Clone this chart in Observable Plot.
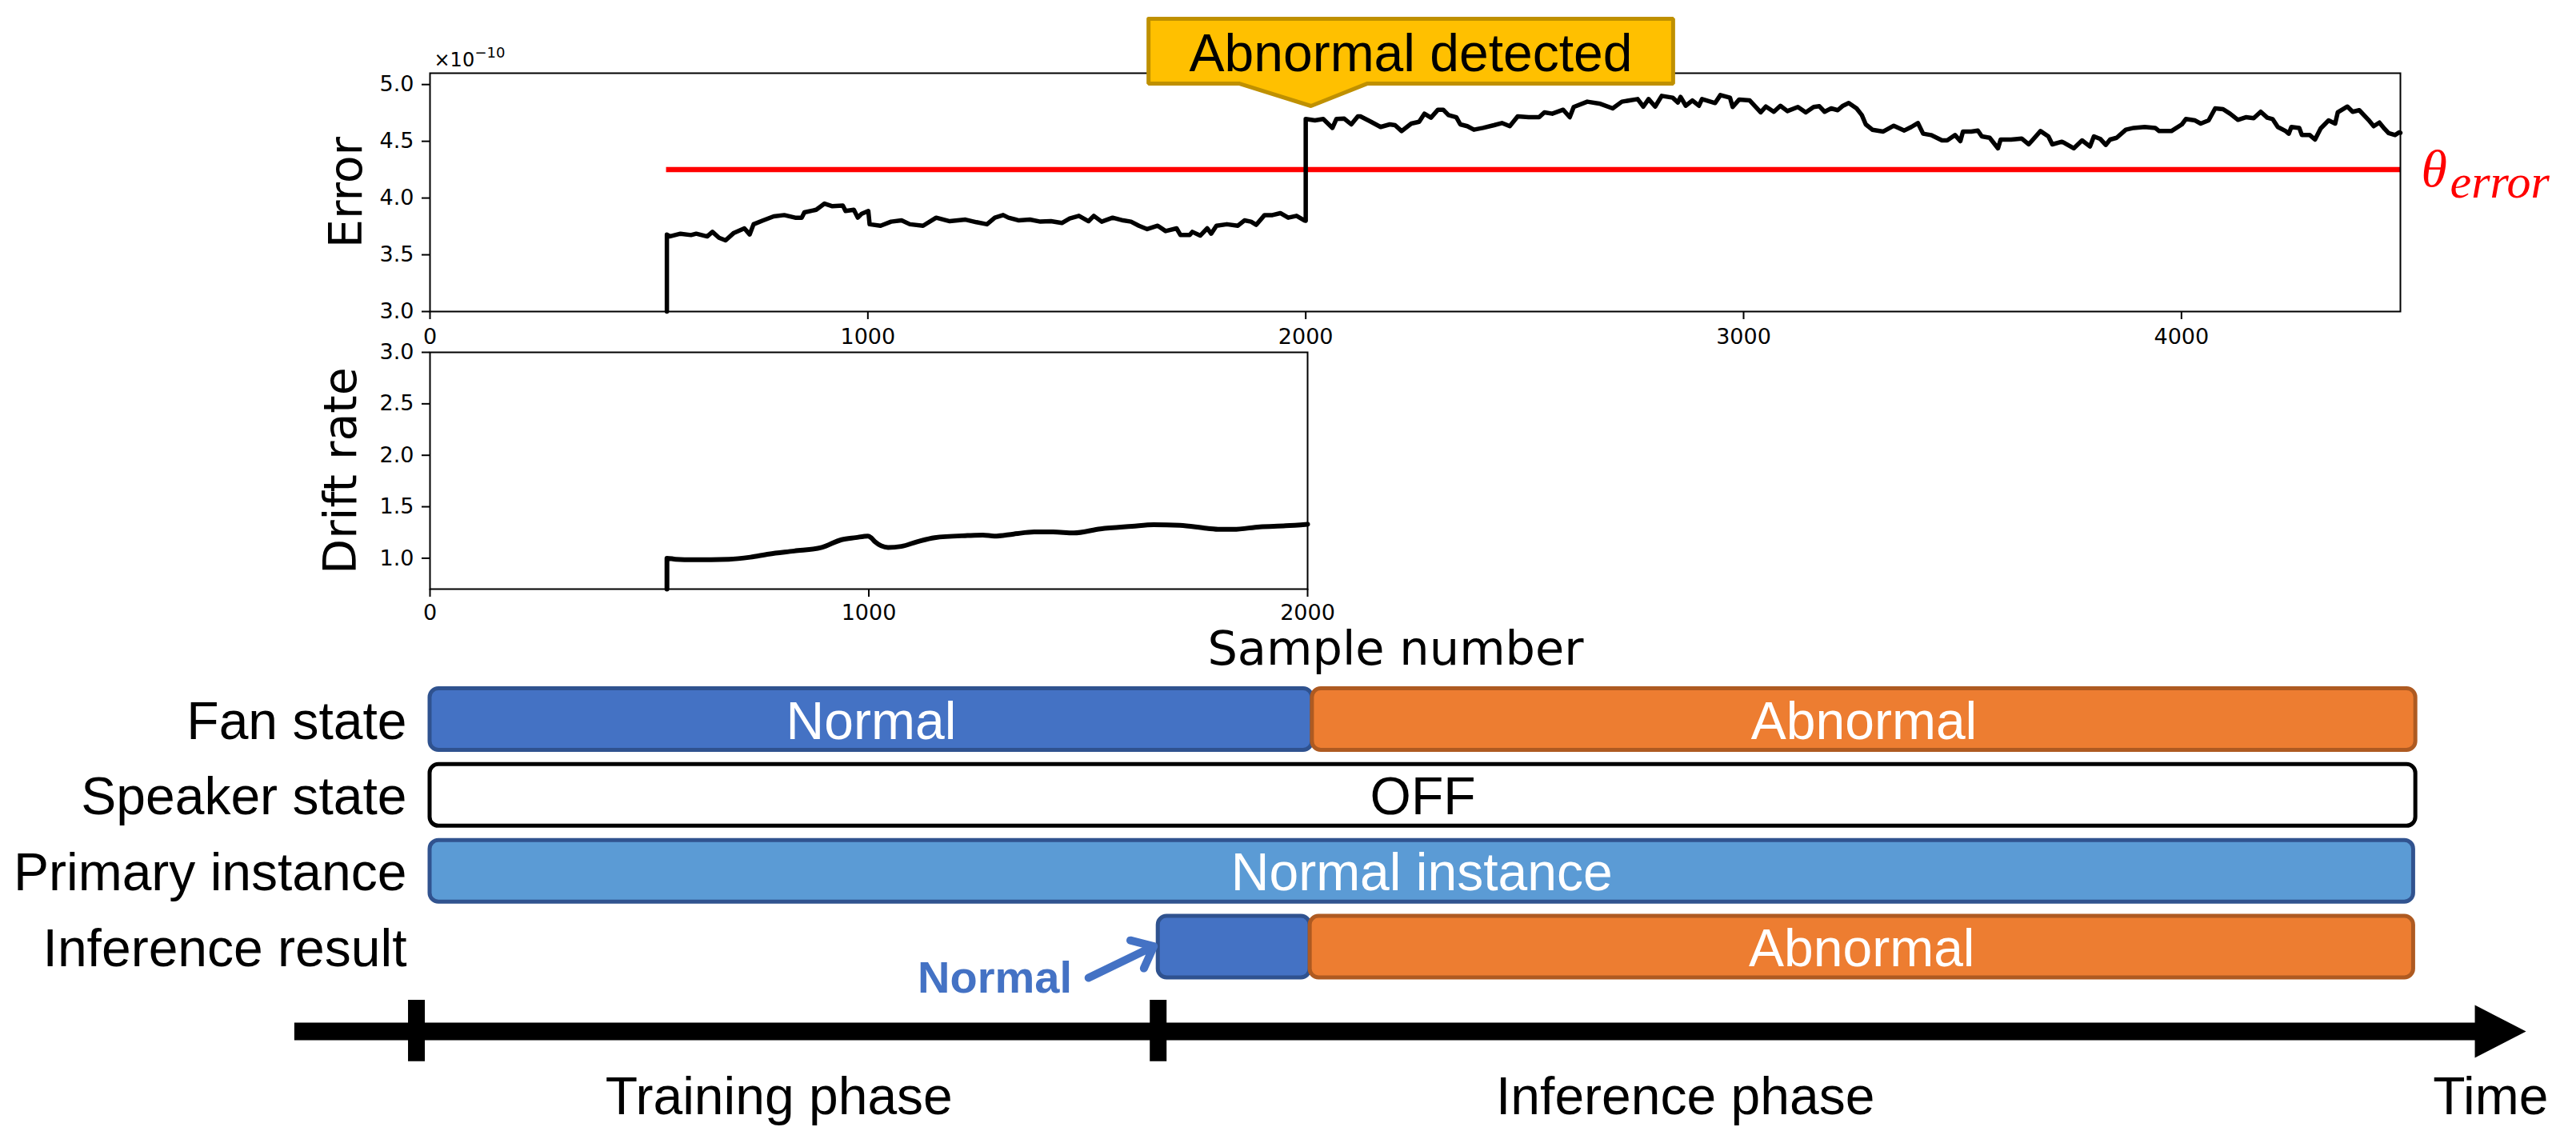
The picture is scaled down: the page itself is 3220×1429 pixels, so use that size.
<!DOCTYPE html>
<html>
<head>
<meta charset="utf-8">
<script src="https://cdn.jsdelivr.net/npm/d3@7"></script>
<script src="https://cdn.jsdelivr.net/npm/@observablehq/plot@0.6"></script>
<style>
html, body { margin: 0; padding: 0; background: #fff; }
#chart { position: relative; width: 3220px; height: 1429px; overflow: hidden; background: #fff; }
#chart svg { position: absolute; left: 0; top: 0; }
</style>
</head>
<body>
<div id="chart"></div>
<script>
// ---------------- data ----------------
// Error (×1e-10) versus sample number
const errorSeries = [
[541,3.0],[541,3.679],[547,3.662],[572,3.686],[596,3.674],[608,3.686],[633,3.662],[645,3.702],[660,3.650],[675,3.627],
[694,3.693],[718,3.733],[730,3.679],[739,3.769],[761,3.803],[785,3.839],[809,3.850],[834,3.827],[849,3.827],[855,3.874],
[882,3.897],[901,3.951],[919,3.928],[943,3.933],[949,3.886],[968,3.897],[977,3.827],[986,3.862],[1001,3.886],[1004,3.769],
[1029,3.756],[1053,3.792],[1077,3.803],[1096,3.769],[1126,3.756],[1156,3.827],[1187,3.796],[1223,3.810],[1248,3.787],[1272,3.769],
[1290,3.827],[1309,3.850],[1321,3.827],[1345,3.803],[1370,3.810],[1394,3.792],[1418,3.796],[1443,3.780],[1461,3.820],[1482,3.843],
[1504,3.796],[1516,3.843],[1534,3.792],[1559,3.827],[1583,3.803],[1601,3.792],[1619,3.756],[1638,3.726],[1662,3.756],[1680,3.709],
[1705,3.733],[1714,3.674],[1735,3.674],[1741,3.702],[1759,3.669],[1775,3.733],[1784,3.686],[1796,3.756],[1820,3.769],[1845,3.756],
[1860,3.803],[1875,3.792],[1887,3.764],[1906,3.850],[1924,3.850],[1942,3.867],[1960,3.827],[1979,3.843],[1997,3.803],[2000,3.800],
[2000,4.696],[2021,4.684],[2040,4.696],[2061,4.618],[2070,4.696],[2088,4.700],[2104,4.649],[2119,4.719],[2125,4.719],[2149,4.672],
[2171,4.626],[2192,4.649],[2204,4.642],[2219,4.590],[2241,4.656],[2259,4.672],[2271,4.743],[2286,4.708],[2302,4.778],[2314,4.778],
[2326,4.731],[2344,4.712],[2353,4.649],[2369,4.633],[2384,4.602],[2405,4.618],[2430,4.642],[2448,4.661],[2466,4.633],[2484,4.719],
[2509,4.712],[2533,4.712],[2545,4.755],[2563,4.743],[2588,4.778],[2603,4.712],[2612,4.802],[2643,4.849],[2673,4.830],[2701,4.790],
[2722,4.849],[2758,4.872],[2771,4.806],[2783,4.872],[2798,4.806],[2813,4.900],[2838,4.884],[2850,4.842],[2856,4.891],[2868,4.813],
[2883,4.860],[2898,4.813],[2905,4.872],[2935,4.837],[2947,4.907],[2969,4.884],[2975,4.802],[2990,4.868],[3014,4.860],[3039,4.755],
[3051,4.806],[3069,4.760],[3084,4.813],[3100,4.766],[3124,4.802],[3142,4.755],[3160,4.802],[3173,4.809],[3185,4.760],[3200,4.790],
[3215,4.774],[3227,4.813],[3240,4.837],[3258,4.790],[3270,4.731],[3279,4.649],[3294,4.602],[3319,4.586],[3343,4.637],[3367,4.595],
[3383,4.626],[3398,4.661],[3410,4.567],[3428,4.555],[3453,4.508],[3465,4.508],[3483,4.555],[3495,4.501],[3501,4.586],[3520,4.586],
[3535,4.595],[3544,4.543],[3562,4.531],[3581,4.438],[3587,4.515],[3611,4.515],[3635,4.524],[3651,4.473],[3678,4.590],[3696,4.543],
[3705,4.473],[3727,4.496],[3733,4.485],[3754,4.438],[3773,4.508],[3791,4.454],[3800,4.543],[3815,4.520],[3827,4.468],[3837,4.515],
[3852,4.531],[3873,4.602],[3891,4.618],[3916,4.626],[3940,4.618],[3949,4.590],[3977,4.590],[4001,4.649],[4010,4.696],[4031,4.684],
[4044,4.656],[4062,4.684],[4077,4.790],[4095,4.783],[4111,4.743],[4129,4.689],[4147,4.712],[4165,4.703],[4181,4.760],[4196,4.708],
[4208,4.696],[4220,4.626],[4238,4.590],[4245,4.567],[4251,4.626],[4269,4.618],[4275,4.555],[4293,4.555],[4305,4.515],[4318,4.614],
[4336,4.684],[4351,4.656],[4357,4.755],[4379,4.806],[4391,4.760],[4406,4.774],[4427,4.689],[4439,4.633],[4452,4.665],[4464,4.609],
[4473,4.572],[4488,4.555],[4497,4.579],[4500,4.575]
];
// Drift rate versus sample number
const driftSeries = [
[540,0.70],[540,1.00],[560,0.99],[600,0.985],[681,0.99],[730,1.01],[772,1.04],[830,1.07],[893,1.105],[938,1.18],
[970,1.20],[998,1.215],[1005,1.20],[1014,1.16],[1044,1.105],[1074,1.115],[1110,1.16],[1150,1.20],[1225,1.22],[1260,1.225],
[1286,1.215],[1330,1.235],[1377,1.255],[1420,1.255],[1467,1.245],[1528,1.285],[1600,1.31],[1649,1.325],[1709,1.32],[1770,1.29],
[1800,1.28],[1831,1.28],[1891,1.305],[1950,1.315],[2000,1.33]
];
const errorThreshold = 4.25;
const thresholdRange = [540, 4500];
const errorXTicks = [0, 1000, 2000, 3000, 4000];
const errorYTicks = [3.0, 3.5, 4.0, 4.5, 5.0];
const driftXTicks = [0, 1000, 2000];
const driftYTicks = [1.0, 1.5, 2.0, 2.5, 3.0];
const detectionLabel = "Abnormal detected";
const thresholdLabel = ["θ", "error"];
const offsetLabel = ["×10", "−10"];

// Timeline diagram (time in sample-like units)
const rowLabels = ["Fan state", "Speaker state", "Primary instance", "Inference result"];
const segments = [
  {row: "Fan state", start: 0, end: 2015, label: "Normal", state: "normal"},
  {row: "Fan state", start: 2015, end: 4535, label: "Abnormal", state: "abnormal"},
  {row: "Speaker state", start: 0, end: 4535, label: "OFF", state: "off"},
  {row: "Primary instance", start: 0, end: 4530, label: "Normal instance", state: "instance"},
  {row: "Inference result", start: 1663, end: 2010, label: "", state: "normal"},
  {row: "Inference result", start: 2010, end: 4530, label: "Abnormal", state: "abnormal"}
];
const phaseTicks = [-31, 1663];
const timeAxis = {start: -309, end: 4787};
const phaseLabels = [
  {label: "Training phase", t: 797},
  {label: "Inference phase", t: 2867},
  {label: "Time", t: 4706}
];
const inferenceNote = {label: "Normal", t: 1290, from: 1504, to: 1653};

// ---------------- rendering ----------------
const W = 3220, H = 1429;
const MPL = "DejaVu Sans";
const OFFICE = "Liberation Sans, Arial, sans-serif";
const chart = document.getElementById("chart");
const baseStyle = {background: "transparent", fontFamily: MPL, fontSize: "27px", overflow: "visible"};

// Error panel
const errPlot = Plot.plot({
  width: W, height: H,
  marginLeft: 537, marginRight: 220, marginTop: 91, marginBottom: 1040,
  style: baseStyle,
  x: {domain: [0, 4500]},
  y: {domain: [3.0, 5.1]},
  marks: [
    Plot.ruleY([errorThreshold], {x1: thresholdRange[0], x2: thresholdRange[1], stroke: "#ff0000", strokeWidth: 6.5}),
    Plot.line(errorSeries, {x: d => d[0], y: d => d[1], stroke: "black", strokeWidth: 5.5, strokeLinejoin: "round"}),
    Plot.frame({stroke: "black", strokeWidth: 2}),
    Plot.axisX({ticks: errorXTicks, tickFormat: d3.format("d"), tickSize: 10, tickPadding: 11, strokeWidth: 2, fontSize: 27, label: null}),
    Plot.axisY({ticks: errorYTicks, tickFormat: d3.format(".1f"), tickSize: 10, tickPadding: 10, strokeWidth: 2, fontSize: 27, label: null}),
    Plot.text(["Error"], {frameAnchor: "left", text: d => d, rotate: -90, dx: -104, fontSize: 57, textAnchor: "middle"}),
    Plot.text([offsetLabel[0]], {frameAnchor: "top-left", text: d => d, textAnchor: "start", lineAnchor: "bottom", dx: 5, dy: -9, fontSize: 24}),
    Plot.text([offsetLabel[1]], {frameAnchor: "top-left", text: d => d, textAnchor: "start", lineAnchor: "bottom", dx: 56, dy: -20, fontSize: 18}),
    // threshold label
    Plot.text([thresholdLabel[0]], {x: thresholdRange[1], y: errorThreshold, text: d => d, textAnchor: "start", dx: 26,
      fill: "#ff0000", fontSize: 66, fontStyle: "italic", fontFamily: "Liberation Serif, serif"}),
    Plot.text([thresholdLabel[1]], {x: thresholdRange[1], y: errorThreshold, text: d => d, textAnchor: "start", lineAnchor: "bottom", dx: 62, dy: 35,
      fill: "#ff0000", fontSize: 60, fontStyle: "italic", fontFamily: "Liberation Serif, serif"}),
    // callout "Abnormal detected"
    Plot.line([[1641,5.579],[2839,5.579],[2839,5.008],[2140,5.008],[2012,4.811],[1849,5.008],[1641,5.008],[1641,5.579]],
      {x: d => d[0], y: d => d[1], fill: "#FFC000", stroke: "#BF9000", strokeWidth: 5, strokeLinejoin: "miter"}),
    Plot.text([detectionLabel], {x: 2240, y: 5.121, text: d => d, textAnchor: "middle", lineAnchor: "bottom",
      fontSize: 66, fontFamily: OFFICE, fill: "black"})
  ]
});
chart.appendChild(errPlot);

// Drift panel
const driftPlot = Plot.plot({
  width: W, height: H,
  marginLeft: 537, marginRight: 1586, marginTop: 440, marginBottom: 693,
  style: baseStyle,
  x: {domain: [0, 2000]},
  y: {domain: [0.7, 3.0]},
  marks: [
    Plot.line(driftSeries, {x: d => d[0], y: d => d[1], stroke: "black", strokeWidth: 6, strokeLinejoin: "round", curve: "monotone-x"}),
    Plot.frame({stroke: "black", strokeWidth: 2}),
    Plot.axisX({ticks: driftXTicks, tickFormat: d3.format("d"), tickSize: 10, tickPadding: 9, strokeWidth: 2, fontSize: 27, label: null}),
    Plot.axisY({ticks: driftYTicks, tickFormat: d3.format(".1f"), tickSize: 10, tickPadding: 10, strokeWidth: 2, fontSize: 27, label: null}),
    Plot.text(["Drift rate"], {frameAnchor: "left", text: d => d, rotate: -90, dx: -111, fontSize: 57, textAnchor: "middle"}),
    Plot.text(["Sample number"], {frameAnchor: "bottom-right", text: d => d, textAnchor: "middle", lineAnchor: "bottom", dx: 110, dy: 94, fontSize: 59})
  ]
});
chart.appendChild(driftPlot);

// Timeline diagram
const rowIndex = r => rowLabels.indexOf(r);
const half = 0.406;
const styles = {
  normal: {fill: "#4472C4", stroke: "#2F528F", text: "white"},
  abnormal: {fill: "#ED7D31", stroke: "#AE5A21", text: "white"},
  off: {fill: "white", stroke: "black", text: "black"},
  instance: {fill: "#5B9BD5", stroke: "#31538F", text: "white"}
};
const diagramMarks = [];
for (const [state, s] of Object.entries(styles)) {
  const data = segments.filter(d => d.state === state);
  diagramMarks.push(Plot.rect(data, {
    x1: "start", x2: "end", y1: d => rowIndex(d.row) - half, y2: d => rowIndex(d.row) + half,
    rx: 11, fill: s.fill, stroke: s.stroke, strokeWidth: 5
  }));
  diagramMarks.push(Plot.text(data.filter(d => d.label), {
    x: d => (d.start + d.end) / 2, y: d => rowIndex(d.row), text: "label", dy: 3,
    fill: s.text, fontSize: 66, fontFamily: OFFICE
  }));
}
const timelineRow = 4.113;
const diagram = Plot.plot({
  width: W, height: H,
  style: {...baseStyle, fontFamily: OFFICE},
  x: {domain: [0, 4500], range: [537, 3000], axis: null},
  y: {domain: [0, 3], range: [899, 1183.5], axis: null},
  marks: [
    ...diagramMarks,
    Plot.text(rowLabels, {x: 0, y: (d, i) => i, text: d => d, textAnchor: "end", dx: -29, dy: 3, fontSize: 66, fill: "black"}),
    // "Normal" note with arrow
    Plot.text([inferenceNote], {x: "t", y: 3.606, text: "label", lineAnchor: "bottom", fontSize: 56, fontWeight: "bold", fill: "#4472C4"}),
    Plot.arrow([inferenceNote], {x1: "from", y1: 3.406, x2: "to", y2: 2.99, stroke: "#4472C4", strokeWidth: 10, headLength: 26, headAngle: 80}),
    // time axis
    Plot.ruleY([timelineRow], {x1: timeAxis.start, x2: 4675, stroke: "black", strokeWidth: 22}),
    Plot.line([[4670, 3.765], [timeAxis.end, timelineRow], [4670, 4.461], [4670, 3.765]],
      {x: d => d[0], y: d => d[1], fill: "black", stroke: "none"}),
    Plot.ruleX(phaseTicks, {y1: 3.70, y2: 4.51, stroke: "black", strokeWidth: 21}),
    Plot.text(phaseLabels, {x: "t", y: 5.199, text: "label", lineAnchor: "bottom", fontSize: 66, fill: "black"})
  ]
});
chart.appendChild(diagram);
</script>
</body>
</html>
